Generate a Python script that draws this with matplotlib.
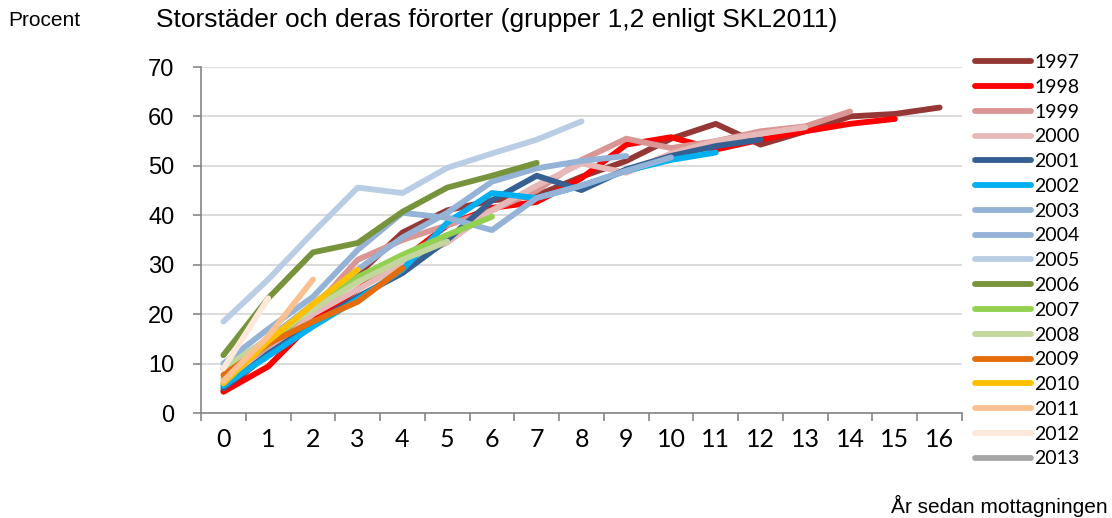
import numpy as np
import matplotlib
matplotlib.use("Agg")
import matplotlib.pyplot as plt

# ==========================================
# Data (Procent per år sedan mottagningen)
# ==========================================
years = ["1997", "1998", "1999", "2000", "2001", "2002", "2003", "2004", "2005",
         "2006", "2007", "2008", "2009", "2010", "2011", "2012", "2013"]

s1997 = [4.5, 12, 19, 28, 36.5, 41, 43, 44, 47.8, 51, 55.5, 58.5, 54.3, 57, 60, 60.5, 61.8]
s1998 = [4.3, 9.4, 18.5, 25, 31, 38, 41.5, 42.7, 47.5, 54.3, 55.8, 53.3, 55.3, 57, 58.5, 59.5]
s1999 = [5.5, 13, 21, 31, 35, 38, 41, 45, 51.2, 55.5, 53.6, 55, 57, 58, 61]
s2000 = [6, 12, 20, 25, 30, 34.5, 41, 46, 50.5, 48.6, 52.5, 55, 56.5, 57.8]
s2001 = [5, 12, 18, 23.5, 28.3, 35, 43, 48, 45.1, 49.3, 52, 54, 55.3]
s2002 = [5.5, 11.5, 17.5, 23, 29, 38.5, 44.5, 43.5, 46, 49, 51.2, 52.7]
s2003 = [10, 17, 23.5, 33, 40.5, 39.5, 37, 43.5, 46, 49, 51.7]
s2004 = [9, 15, 22, 29, 35.5, 40.5, 46.8, 49.5, 51, 52]
s2005 = [18.5, 27, 36.5, 45.6, 44.5, 49.6, 52.5, 55.3, 59]
s2006 = [11.7, 23.2, 32.5, 34.4, 40.7, 45.6, 48, 50.6]
s2007 = [7, 14, 21.5, 27.5, 32, 36, 39.7]
s2008 = [9, 15, 21, 26.5, 31, 34.7]
s2009 = [7.7, 14, 18.5, 22.5, 29.3]
s2010 = [6, 14.5, 22, 29]
s2011 = [6.5, 15.5, 27]
s2012 = [9, 23.2]
s2013 = [7]

series = [s1997, s1998, s1999, s2000, s2001, s2002, s2003, s2004, s2005,
          s2006, s2007, s2008, s2009, s2010, s2011, s2012, s2013]

colors = ["#953735", "#FF0000", "#D99694", "#E6B9B8", "#376092", "#00B0F0",
          "#95B3D7", "#95B3D7", "#B9CDE5", "#77933C", "#92D050", "#C3D69B",
          "#E46C0A", "#FFC000", "#FAC090", "#FDE9D9", "#A6A6A6"]

x_labels = [str(i) for i in range(17)]

# ==========================================
# Figure
# ==========================================
fig = plt.figure(figsize=(11.12, 5.18), dpi=100)
ax = fig.add_axes([201 / 1112, 1 - 413 / 518, 761 / 1112, 346 / 518])

for name, vals, c in zip(years, series, colors):
    ax.plot(np.arange(len(vals)), vals, color=c, lw=4.2, label=name,
            solid_capstyle="round", solid_joinstyle="round")

ax.set_xlim(-0.5, 16.5)
ax.set_ylim(0, 70)
ax.set_yticks(range(0, 71, 10))
ax.set_xticks(range(17))
ax.set_xticklabels(x_labels, family="Lato", fontsize=18)
ax.set_xticks(np.arange(-0.5, 17, 1), minor=True)
ax.tick_params(axis="x", which="major", length=0, pad=11)
ax.tick_params(axis="x", which="minor", length=6, color="#868686", width=1.2)
ax.tick_params(axis="y", length=6, color="#868686", width=1.2, labelsize=17, pad=13)
for lab in ax.get_yticklabels():
    lab.set_family("Liberation Sans")

ax.grid(axis="y", color="#D9D9D9", lw=1.3)
ax.set_axisbelow(True)
for side in ["top", "right"]:
    ax.spines[side].set_visible(False)
for side in ["left", "bottom"]:
    ax.spines[side].set_color("#868686")
    ax.spines[side].set_linewidth(1.2)

fig.text(8 / 1112, 1 - 20 / 518, "Procent", family="Liberation Sans", fontsize=15,
         va="center", ha="left")
fig.text(497 / 1112, 1 - 20 / 518, "Storstäder och deras förorter (grupper 1,2 enligt SKL2011)",
         family="Liberation Sans", fontsize=19, va="center", ha="center")
fig.text(1108 / 1112, 1 - 506 / 518, "År sedan mottagningen", family="Liberation Sans",
         fontsize=15, va="center", ha="right")

fig.legend(loc="upper left", bbox_to_anchor=(975 / 1112, 1 - 54 / 518),
           frameon=False, prop={"family": "Lato", "size": 14},
           handlelength=2.9, handletextpad=0.15, labelspacing=0.4, borderaxespad=0,
           borderpad=0)

fig.savefig("out.png", dpi=100)
